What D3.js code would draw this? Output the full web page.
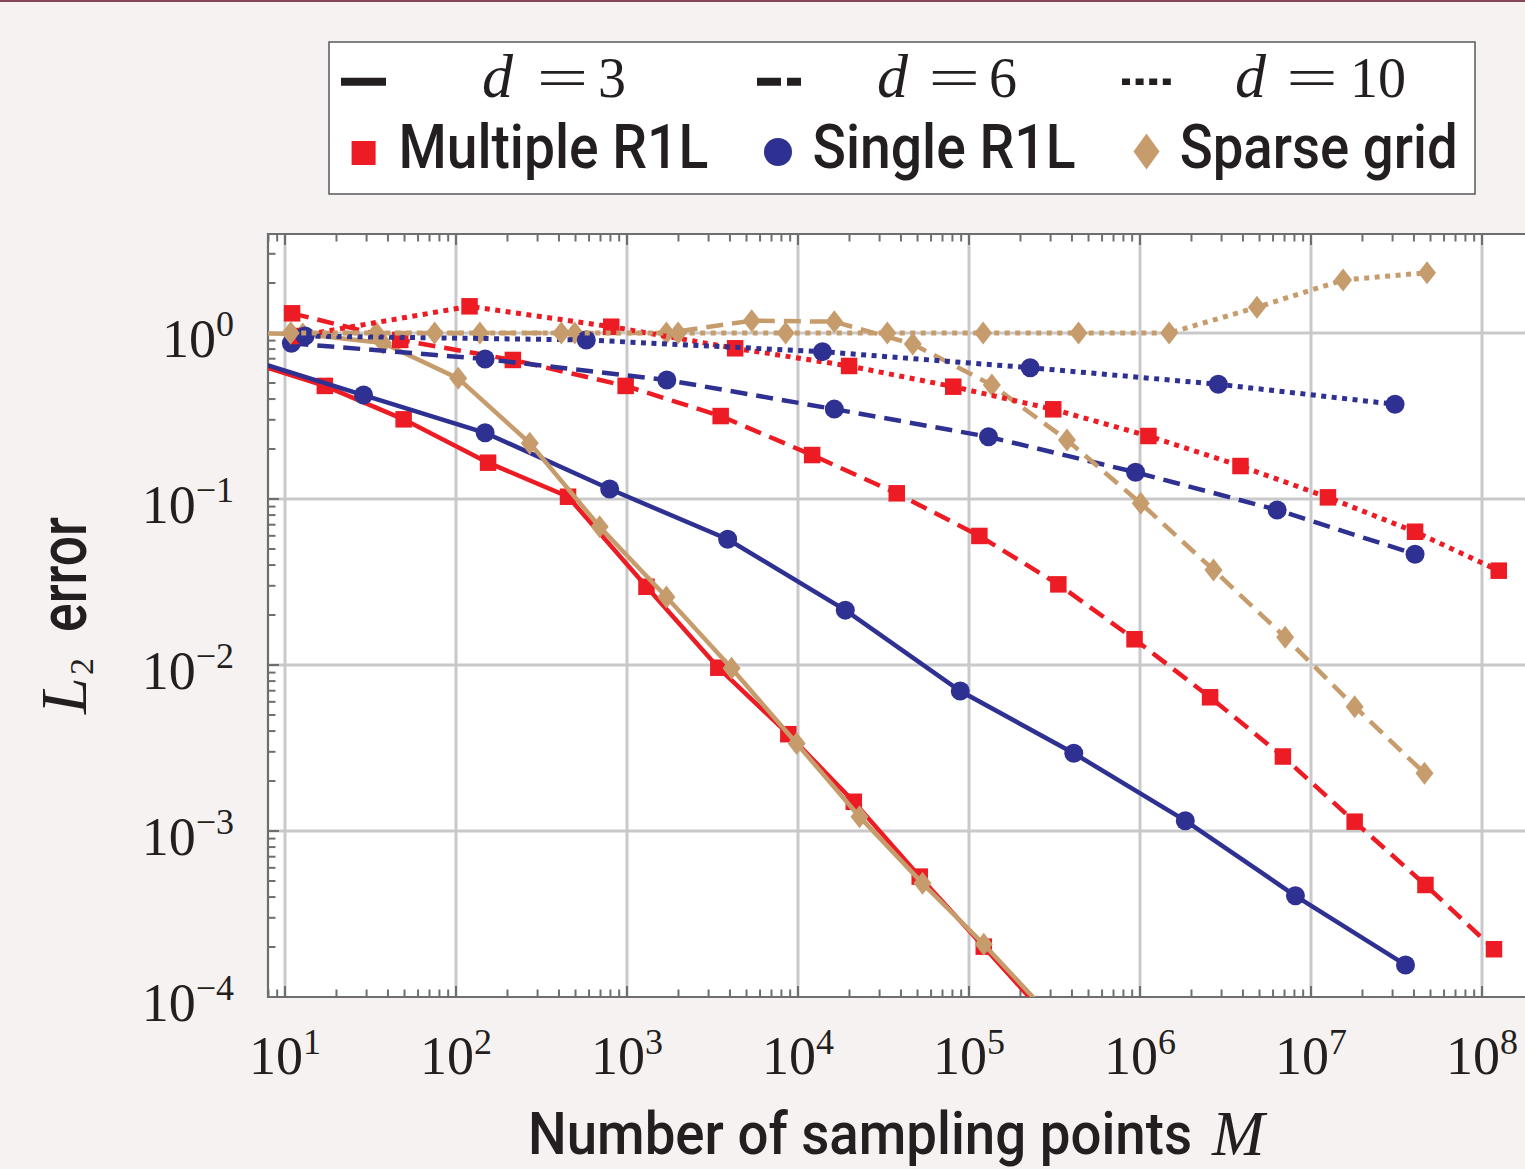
<!DOCTYPE html>
<html>
<head>
<meta charset="utf-8">
<script src="https://cdn.jsdelivr.net/npm/d3@7"></script>
<style>
html, body { margin: 0; padding: 0; background: #f6f2f1; }
svg { display: block; }
</style>
</head>
<body>
<div id="chart"></div>
<script>
// ---- data (M = number of sampling points, E = L2 error) ----
const mMulti3 = [5, 17.1, 49.4, 154, 452, 1300, 3420, 8780, 21200, 51500, 122000, 290000];
const eMulti3 = [0.719, 0.480, 0.302, 0.1655, 0.1032, 0.0296, 0.00963, 0.00383, 0.00150, 0.000531, 0.000201, 0.0000747];
const mSingle3 = [5, 28.8, 148, 792, 3880, 18900, 88900, 410000, 1840000, 8110000, 35700000];
const eSingle3 = [0.741, 0.423, 0.2507, 0.1148, 0.0572, 0.0214, 0.00697, 0.00294, 0.001154, 0.000407, 0.000156];
const mSparse3 = [4.17, 12.7, 37.4, 103, 270, 692, 1700, 4090, 9820, 22900, 53500, 122000, 278000];
const eSparse3 = [1.0, 0.986, 0.87, 0.533, 0.217, 0.0681, 0.0257, 0.00955, 0.00337, 0.00122, 0.000484, 0.000208, 0.0000835];

const mMulti6 = [11.0, 47.2, 215, 982, 3530, 12100, 37800, 115000, 333000, 929000, 2.57e6, 6.85e6, 1.80e7, 4.67e7, 1.175e8];
const eMulti6 = [1.314, 0.908, 0.688, 0.480, 0.316, 0.184, 0.1082, 0.0599, 0.0306, 0.01429, 0.00639, 0.00281, 0.001138, 0.000473, 0.000194];
const mSingle6 = [10.9, 148, 1710, 16300, 130000, 942000, 6.34e6, 4.06e7];
const eSingle6 = [0.867, 0.697, 0.521, 0.348, 0.237, 0.1449, 0.0859, 0.0465];
const mSparse6 = [10.8, 34.2, 138, 495, 1700, 5360, 16300, 46900, 136000, 374000, 1.01e6, 2.69e6, 7.06e6, 1.80e7, 4.61e7];
const eSparse6 = [1.0, 1.0, 1.0, 1.0, 1.0, 1.186, 1.17, 0.858, 0.486, 0.2266, 0.0942, 0.0374, 0.01469, 0.00561, 0.00223];

const mMulti10 = [12.0, 120, 809, 4290, 19900, 80900, 311000, 1.12e6, 3.87e6, 1.256e7, 4.06e7, 1.253e8];
const eMulti10 = [0.959, 1.448, 1.091, 0.809, 0.633, 0.475, 0.347, 0.2396, 0.158, 0.1023, 0.0635, 0.0370];
const mSingle10 = [13.1, 578, 13900, 228000, 2.87e6, 3.10e7];
const eSingle10 = [0.959, 0.908, 0.772, 0.618, 0.491, 0.372];
const mSparse10 = [10.8, 75, 413, 1990, 8470, 33300, 121000, 437000, 1.48e6, 4.83e6, 1.54e7, 4.77e7];
const eSparse10 = [1.0, 1.0, 1.0, 1.0, 1.0, 1.0, 1.0, 1.0, 1.0, 1.428, 2.086, 2.307];

const xTickExps = [1, 2, 3, 4, 5, 6, 7, 8];
const yTickExps = [0, -1, -2, -3, -4];
const dimLabels = ['3', '6', '10'];
const methodLabels = ['Multiple R1L', 'Single R1L', 'Sparse grid'];

// ---- setup ----
let dim = { width: 1525, height: 1169 };
let plot = { left: 268, top: 234, bottom: 997, right: 1560 };

const red = '#ed1c24', blue = '#2e3192', tan = '#c69c6d';
const ink = '#231f20', frameCol = '#6d6e70', gridCol = '#c9c9cb';
const serif = '"Liberation Serif", "DejaVu Serif", serif';
const sans = 'Roboto, "Noto Sans", sans-serif';

let svg = d3.select('#chart').append('svg')
    .attr('width', dim.width)
    .attr('height', dim.height);

svg.append('rect').attr('width', dim.width).attr('height', dim.height).attr('fill', '#f6f2f1');
svg.append('rect').attr('width', dim.width).attr('height', 2).attr('fill', '#86475a');

let scaleX = d3.scaleLog().domain([10, 1e8]).range([285, 1482]);
let scaleY = d3.scaleLog().domain([1, 1e-4]).range([333, 997]);

// plot background
svg.append('rect')
    .attr('x', plot.left).attr('y', plot.top)
    .attr('width', plot.right - plot.left).attr('height', plot.bottom - plot.top)
    .attr('fill', '#fff');

svg.append('clipPath').attr('id', 'clip')
    .append('rect')
    .attr('x', plot.left).attr('y', plot.top)
    .attr('width', plot.right - plot.left).attr('height', plot.bottom - plot.top);

// grid
let grid = svg.append('g').attr('stroke', gridCol).attr('stroke-width', 3);
grid.selectAll('.vg').data(xTickExps).join('line')
    .attr('x1', d => scaleX(Math.pow(10, d))).attr('x2', d => scaleX(Math.pow(10, d)))
    .attr('y1', plot.top).attr('y2', plot.bottom);
grid.selectAll('.hg').data(yTickExps.slice(0, 4)).join('line')
    .attr('y1', d => scaleY(Math.pow(10, d))).attr('y2', d => scaleY(Math.pow(10, d)))
    .attr('x1', plot.left).attr('x2', plot.right);

// ticks
let xMin = scaleX.invert(plot.left), xMax = scaleX.invert(plot.right);
let yMin = scaleY.invert(plot.bottom), yMax = scaleY.invert(plot.top);
let xTicks = [], yTicks = [];
for (let e = 0; e <= 8; e++) {
    for (let k = 1; k <= 9; k++) {
        let v = k * Math.pow(10, e);
        if (v >= xMin * 0.999 && v <= xMax) xTicks.push({ v: v, major: k === 1 });
    }
}
for (let e = -4; e <= 0; e++) {
    for (let k = 1; k <= 9; k++) {
        let v = k * Math.pow(10, e);
        if (v >= yMin * 0.999 && v <= yMax) yTicks.push({ v: v, major: k === 1 });
    }
}
let ticks = svg.append('g').attr('stroke', frameCol).attr('stroke-width', 2);
ticks.selectAll('.tt').data(xTicks).join('line')
    .attr('x1', d => scaleX(d.v)).attr('x2', d => scaleX(d.v))
    .attr('y1', plot.top).attr('y2', d => plot.top + (d.major ? 11 : 7.5));
ticks.selectAll('.bt').data(xTicks).join('line')
    .attr('x1', d => scaleX(d.v)).attr('x2', d => scaleX(d.v))
    .attr('y1', plot.bottom).attr('y2', d => plot.bottom - (d.major ? 11 : 7.5));
ticks.selectAll('.lt').data(yTicks).join('line')
    .attr('y1', d => scaleY(d.v)).attr('y2', d => scaleY(d.v))
    .attr('x1', plot.left).attr('x2', d => plot.left + (d.major ? 11 : 7.5));

// frame (left, top, bottom)
let frame = svg.append('g').attr('stroke', frameCol).attr('stroke-width', 2.2).attr('fill', 'none');
frame.append('path')
    .attr('d', `M${plot.right},${plot.top}H${plot.left}V${plot.bottom}H${plot.right}`);

// ---- series ----
function zipData(ms, es) { return ms.map((m, i) => ({ m: m, e: es[i] })); }

const dashes = { solid: null, dashed: '17,9', dotted: '5,5.5' };
let series = [
    { data: zipData(mMulti3, eMulti3), color: red, style: 'solid', shape: 'square' },
    { data: zipData(mSingle3, eSingle3), color: blue, style: 'solid', shape: 'circle' },
    { data: zipData(mSparse3, eSparse3), color: tan, style: 'solid', shape: 'diamond' },
    { data: zipData(mMulti6, eMulti6), color: red, style: 'dashed', shape: 'square' },
    { data: zipData(mSingle6, eSingle6), color: blue, style: 'dashed', shape: 'circle' },
    { data: zipData(mSparse6, eSparse6), color: tan, style: 'dashed', shape: 'diamond' },
    { data: zipData(mMulti10, eMulti10), color: red, style: 'dotted', shape: 'square' },
    { data: zipData(mSingle10, eSingle10), color: blue, style: 'dotted', shape: 'circle' },
    { data: zipData(mSparse10, eSparse10), color: tan, style: 'dotted', shape: 'diamond' }
];

let line = d3.line().x(d => scaleX(d.m)).y(d => scaleY(d.e));
let plotG = svg.append('g').attr('clip-path', 'url(#clip)');

function addMarker(g, shape, cx, cy, color, s) {
    if (shape === 'square') {
        g.append('rect').attr('x', cx - s.sq / 2).attr('y', cy - s.sq / 2)
            .attr('width', s.sq).attr('height', s.sq).attr('fill', color);
    } else if (shape === 'circle') {
        g.append('circle').attr('cx', cx).attr('cy', cy).attr('r', s.r).attr('fill', color);
    } else {
        g.append('path')
            .attr('d', `M${cx},${cy - s.dh}L${cx + s.dw},${cy}L${cx},${cy + s.dh}L${cx - s.dw},${cy}Z`)
            .attr('fill', color);
    }
}

const plotMark = { sq: 16.5, r: 9.5, dw: 9, dh: 11.5 };

series.forEach(s => {
    let g = plotG.append('g');
    g.append('path')
        .datum(s.data)
        .attr('d', line)
        .attr('fill', 'none')
        .attr('stroke', s.color)
        .attr('stroke-width', s.style === 'dotted' ? 5 : 4.5)
        .attr('stroke-dasharray', dashes[s.style]);
    s.data.forEach(d => addMarker(g, s.shape, scaleX(d.m), scaleY(d.e), s.color, plotMark));
});

// condensed sans text: measure natural width, then squeeze it to the target width
function condensed(parent, x, y, str, size, width) {
    let g = parent.append('g').attr('transform', `translate(${x},${y})`);
    let t = g.append('text')
        .attr('font-family', sans).attr('font-size', size).attr('font-weight', 500)
        .attr('fill', ink)
        .text(str);
    let natural = t.node().getComputedTextLength();
    t.attr('transform', `scale(${width / natural},1)`);
    return g;
}

// ---- tick labels ----
let xLab = svg.append('g').attr('font-family', serif).attr('fill', ink);
xTickExps.forEach(e => {
    let t = xLab.append('text')
        .attr('x', scaleX(Math.pow(10, e)))
        .attr('y', 1074)
        .attr('text-anchor', 'middle')
        .attr('font-size', 54);
    t.append('tspan').text('10');
    t.append('tspan').attr('dy', -20).attr('font-size', 36).text(String(e));
});

let yLab = svg.append('g').attr('font-family', serif).attr('fill', ink);
yTickExps.forEach(e => {
    let t = yLab.append('text')
        .attr('x', 234)
        .attr('y', scaleY(Math.pow(10, e)) + 23.5)
        .attr('text-anchor', 'end')
        .attr('font-size', 54);
    t.append('tspan').text('10');
    t.append('tspan').attr('dy', -21).attr('font-size', 36).text(e === 0 ? '0' : '\u2212' + Math.abs(e));
});

// ---- axis titles ----
condensed(svg, 528, 1154, 'Number of sampling points', 60, 664);
svg.append('text')
    .attr('x', 1212).attr('y', 1155)
    .attr('font-family', serif).attr('font-style', 'italic').attr('font-size', 63).attr('fill', ink)
    .text('M');

let yTitle = svg.append('g').attr('transform', 'translate(86,714) rotate(-90)').attr('fill', ink);
yTitle.append('text').attr('x', 0).attr('y', 0)
    .attr('font-family', serif).attr('font-style', 'italic').attr('font-size', 66)
    .text('L');
yTitle.append('text').attr('x', 39).attr('y', 7)
    .attr('font-family', serif).attr('font-size', 34)
    .text('2');
condensed(yTitle, 82, 0, 'error', 66, 115);

// ---- legend ----
let legend = svg.append('g');
legend.append('rect')
    .attr('x', 329).attr('y', 42).attr('width', 1146).attr('height', 152)
    .attr('fill', '#fff').attr('stroke', '#58595b').attr('stroke-width', 1.5);

const legStyles = [
    { x1: 341, x2: 386, w: 8, dash: null, dx: 482, ex: 536.4, nx: 598 },
    { x1: 757, x2: 801, w: 8, dash: '24,6', dx: 877, ex: 928.2, nx: 989 },
    { x1: 1122, x2: 1171, w: 6.5, dash: '8,5.6', dx: 1235, ex: 1286, nx: 1350 }
];
legStyles.forEach((s, i) => {
    legend.append('line')
        .attr('x1', s.x1).attr('x2', s.x2).attr('y1', 81.7).attr('y2', 81.7)
        .attr('stroke', ink).attr('stroke-width', s.w)
        .attr('stroke-dasharray', s.dash);
    legend.append('text').attr('x', s.dx).attr('y', 96.7)
        .attr('font-family', serif).attr('font-style', 'italic').attr('font-size', 62).attr('fill', ink)
        .text('d');
    legend.append('text').attr('x', s.ex).attr('y', 97)
        .attr('font-family', serif).attr('font-size', 58).attr('fill', ink)
        .attr('textLength', 52).attr('lengthAdjust', 'spacingAndGlyphs')
        .text('=');
    legend.append('text').attr('x', s.nx).attr('y', 96.7)
        .attr('font-family', serif).attr('font-size', 56).attr('fill', ink)
        .text(dimLabels[i]);
});

const legMethods = [
    { shape: 'square', color: red, mx: 363.6, my: 153, tx: 398.4, tw: 310 },
    { shape: 'circle', color: blue, mx: 778, my: 152, tx: 812.5, tw: 263 },
    { shape: 'diamond', color: tan, mx: 1146.5, my: 151.5, tx: 1179.7, tw: 278 }
];
const legMark = { sq: 24, r: 14, dw: 13, dh: 18 };
legMethods.forEach((m, i) => {
    addMarker(legend, m.shape, m.mx, m.my, m.color, legMark);
    condensed(legend, m.tx, 168.3, methodLabels[i], 61, m.tw);
});
</script>
</body>
</html>
